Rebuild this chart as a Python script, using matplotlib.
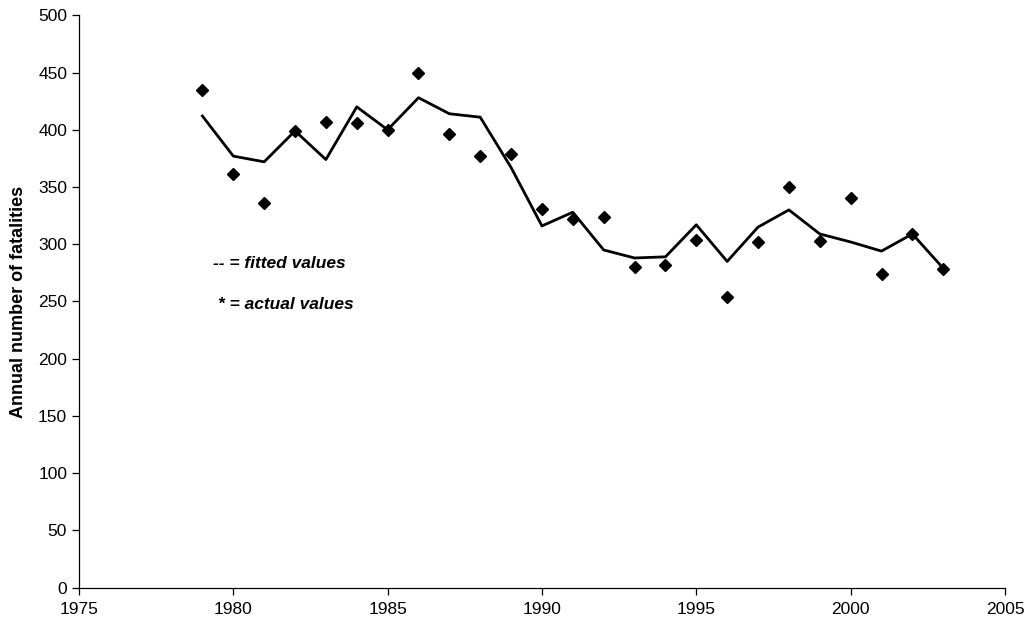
import matplotlib
matplotlib.use("Agg")
import matplotlib.pyplot as plt

years = list(range(1979, 2004))
actual = [435, 361, 336, 399, 407, 406, 400, 450, 396, 377, 379,
          331, 322, 324, 280, 282, 304, 254, 302, 350, 303, 340, 274, 309, 278]
fitted = [412, 377, 372, 399, 374, 420, 400, 428, 414, 411, 367,
          316, 328, 295, 288, 289, 317, 285, 315, 330, 309, 302, 294, 309, 279]

x_ticks = [1975, 1980, 1985, 1990, 1995, 2000, 2005]
y_ticks = [0, 50, 100, 150, 200, 250, 300, 350, 400, 450, 500]

plt.rcParams['font.family'] = ['Liberation Sans', 'DejaVu Sans']

fig = plt.figure(figsize=(10.28, 6.22), dpi=100)
ax = fig.add_axes([0.0768, 0.0552, 0.9008, 0.9202])

ax.plot(years, fitted, color='black', linewidth=2.0, zorder=2)
ax.plot(years, actual, linestyle='none', marker='D', markersize=6.5,
        color='black', zorder=3)

ax.set_xlim(1975, 2005)
ax.set_ylim(0, 500)
ax.set_xticks(x_ticks)
ax.set_yticks(y_ticks)
ax.tick_params(axis='both', labelsize=12.5, length=5, width=0.9, color='black')
ax.tick_params(axis='x', pad=5)

for side in ('top', 'right'):
    ax.spines[side].set_visible(False)
for side in ('left', 'bottom'):
    ax.spines[side].set_linewidth(0.9)

ax.set_ylabel('Annual number of fatalities', fontsize=13, fontweight='bold',
              labelpad=8)

ax.text(1979.33, 283.6, '-- = fitted values', fontsize=12.5, fontweight='bold',
        fontstyle='italic', va='center', ha='left')
ax.text(1979.5, 247, '* = actual values', fontsize=12.5, fontweight='bold',
        fontstyle='italic', va='center', ha='left')

fig.savefig('out.png', dpi=100)
